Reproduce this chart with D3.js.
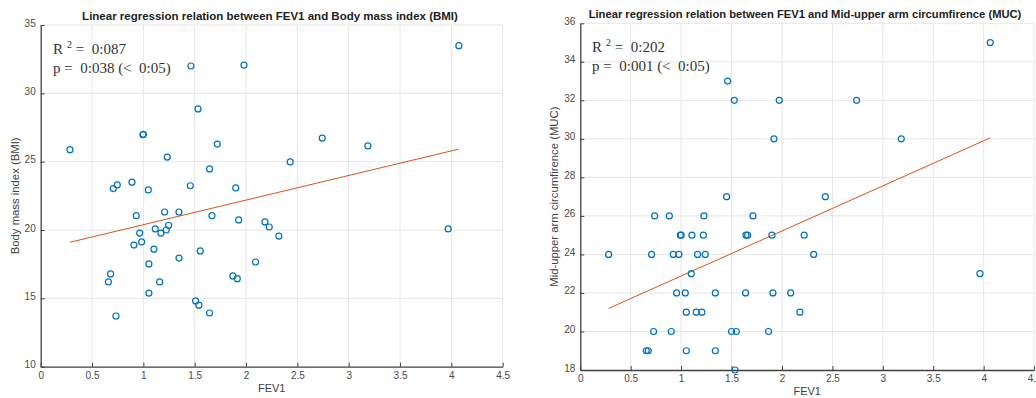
<!DOCTYPE html>
<html>
<head>
<meta charset="utf-8">
<script src="https://cdn.jsdelivr.net/npm/d3@7"></script>
<style>
  body { margin: 0; background: #fff; }
  svg { display: block; }
  .stat { white-space: pre; }
</style>
</head>
<body>
<div id="chart"></div>
<script>
// FEV1 vs BMI (left panel)
fev_bmi = [0.285,0.707,0.746,0.889,0.996,1.0,1.048,1.233,1.463,1.457,1.532,1.645,1.72,1.9,1.98,
    2.43,2.742,3.187,4.073,0.931,1.207,1.347,1.668,1.928,2.184,2.226,2.32,3.969,0.964,1.116,
    1.171,1.223,1.246,0.908,0.983,1.103,1.554,1.347,1.054,2.093,0.681,0.659,1.159,1.872,1.915,
    1.054,1.509,1.541,1.645,0.733];
bmi = [25.88,23.03,23.3,23.5,26.97,27.0,22.93,25.34,32.0,23.24,28.86,24.47,26.29,23.08,32.07,
    24.98,26.73,26.15,33.49,21.05,21.32,21.32,21.05,20.74,20.59,20.22,19.56,20.08,19.78,20.08,
    19.78,20.0,20.35,18.9,19.13,18.6,18.47,17.95,17.52,17.66,16.79,16.2,16.2,16.64,16.44,
    15.39,14.81,14.5,13.93,13.71];
// FEV1 vs MUC (right panel)
fev_muc = [1.461,1.527,1.973,2.74,1.92,3.183,4.065,1.451,2.43,
    0.737,0.883,1.226,1.712,
    0.992,1.0,1.107,1.22,1.643,1.659,1.90,2.22,
    0.281,0.707,0.922,0.978,1.163,1.239,2.314,
    1.10,3.963,
    0.955,1.041,1.339,1.639,1.91,2.086,
    1.051,1.15,1.206,2.178,
    0.727,0.902,1.50,1.547,1.867,
    0.654,0.674,1.051,1.339,
    1.534];
muc = [33,32,32,32,30,30,35,27,27,
    26,26,26,26,
    25,25,25,25,25,25,25,25,
    24,24,24,24,24,24,24,
    23,23,
    22,22,22,22,22,22,
    21,21,21,21,
    20,20,20,20,20,
    19,19,19,19,
    18];
// fitted lines: [slope, intercept]
fit_bmi = [1.80, 18.59];
fit_muc = [2.34, 20.54];
x_ticks = [0,0.5,1,1.5,2,2.5,3,3.5,4,4.5];
bmi_ticks = [10,15,20,25,30,35];
muc_ticks = [18,20,22,24,26,28,30,32,34,36];

var svg = d3.select("#chart").append("svg")
    .attr("width",1036)
    .attr("height",398);

function panel(cfg){
    var x = d3.scaleLinear().domain([0,4.5]).range(cfg.xr);
    var y = d3.scaleLinear().domain(cfg.yd).range(cfg.yr);
    var g = svg.append("g");
    // grid
    g.selectAll(".vgrid")
        .data(x_ticks.slice(1))
        .enter()
        .append("line")
        .attr("x1",function(d){return x(d);})
        .attr("x2",function(d){return x(d);})
        .attr("y1",cfg.yr[0])
        .attr("y2",cfg.yr[1])
        .attr("stroke","#e6e6e6")
        .attr("stroke-width",1);
    g.selectAll(".hgrid")
        .data(cfg.ticks.slice(1))
        .enter()
        .append("line")
        .attr("x1",cfg.xr[0])
        .attr("x2",cfg.xr[1])
        .attr("y1",function(d){return y(d);})
        .attr("y2",function(d){return y(d);})
        .attr("stroke","#e6e6e6")
        .attr("stroke-width",1);
    // axes, ticks inward
    var xa = g.append("g")
        .attr("transform","translate(0,"+cfg.yr[0]+")")
        .call(d3.axisTop(x).tickValues(x_ticks).tickSize(4).tickSizeOuter(0).tickFormat(d3.format("")));
    xa.selectAll("text").attr("y",5).attr("dy","0.71em")
        .attr("font-family","Liberation Sans, Arial, sans-serif").attr("font-size","10px").attr("fill","#4a4a4a");
    var ya = g.append("g")
        .attr("transform","translate("+cfg.xr[0]+",0)")
        .call(d3.axisRight(y).tickValues(cfg.ticks).tickSize(4).tickSizeOuter(0));
    ya.selectAll("text").attr("x",-5).attr("text-anchor","end").attr("dy","0.1em")
        .attr("font-family","Liberation Sans, Arial, sans-serif").attr("font-size","10px").attr("fill","#4a4a4a");
    g.selectAll(".domain").attr("stroke","#404040").attr("stroke-width",1.3);
    g.selectAll(".tick line").attr("stroke","#404040");
    // fit line
    var xs = cfg.xs;
    var x0 = d3.min(xs), x1 = d3.max(xs);
    g.append("line")
        .attr("x1",x(x0)).attr("y1",y(cfg.fit[0]*x0+cfg.fit[1]))
        .attr("x2",x(x1)).attr("y2",y(cfg.fit[0]*x1+cfg.fit[1]))
        .attr("stroke","#d95319")
        .attr("stroke-width",1);
    // points
    g.selectAll(".pt")
        .data(xs)
        .enter()
        .append("circle")
        .attr("cx",function(d){return x(d);})
        .attr("cy",function(d,i){return y(cfg.ys[i]);})
        .attr("r",3)
        .attr("fill","none")
        .attr("stroke","#0072bd")
        .attr("stroke-width",1.2);
    // title
    g.append("text")
        .text(cfg.title)
        .attr("x",cfg.tx)
        .attr("y",cfg.ty)
        .attr("text-anchor","middle")
        .attr("font-family","Liberation Sans, Arial, sans-serif")
        .attr("font-weight","bold")
        .attr("font-size",cfg.tsize)
        .attr("fill","#222");
    g.append("text")
        .text("FEV1")
        .attr("x",(cfg.xr[0]+cfg.xr[1])/2)
        .attr("y",cfg.yr[0]+25)
        .attr("text-anchor","middle")
        .attr("font-family","Liberation Sans, Arial, sans-serif")
        .attr("font-size","11px")
        .attr("fill","#404040");
    g.append("text")
        .text(cfg.ylabel)
        .attr("transform","translate("+cfg.lx+","+((cfg.yr[0]+cfg.yr[1])/2)+") rotate(-90)")
        .attr("text-anchor","middle")
        .attr("font-family","Liberation Sans, Arial, sans-serif")
        .attr("font-size","11.3px")
        .attr("fill","#404040");
    // stats
    var t1 = g.append("text")
        .attr("class","stat")
        .attr("x",cfg.ax).attr("y",cfg.ay)
        .attr("font-family","Liberation Serif, serif")
        .attr("font-size","15px")
        .attr("fill","#333");
    t1.append("tspan").text("R");
    t1.append("tspan").text("2").attr("dx",4).attr("dy",-6).attr("font-size","10px");
    t1.append("tspan").text(" =  "+cfg.r2).attr("dy",6);
    g.append("text")
        .attr("class","stat")
        .text("p =  "+cfg.p+" (<  0:05)")
        .attr("x",cfg.ax).attr("y",cfg.ay+19)
        .attr("font-family","Liberation Serif, serif")
        .attr("font-size","15px")
        .attr("fill","#333");
}

panel({xr:[40.7,502.7], yr:[366.7,25], yd:[10,35], ticks:bmi_ticks,
    xs:fev_bmi, ys:bmi, fit:fit_bmi,
    title:"Linear regression relation between FEV1 and Body mass index (BMI)", tx:270, ty:20, tsize:"11.5px",
    ylabel:"Body mass index (BMI)", lx:19,
    r2:"0:087", p:"0:038", ax:53, ay:54});
panel({xr:[580.3,1034.1], yr:[370,23.3], yd:[18,36], ticks:muc_ticks,
    xs:fev_muc, ys:muc, fit:fit_muc,
    title:"Linear regression relation between FEV1 and Mid-upper arm circumfirence (MUC)", tx:805, ty:18, tsize:"11.2px",
    ylabel:"Mid-upper arm circumfirence (MUC)", lx:558,
    r2:"0:202", p:"0:001", ax:592, ay:52});
</script>
</body>
</html>
